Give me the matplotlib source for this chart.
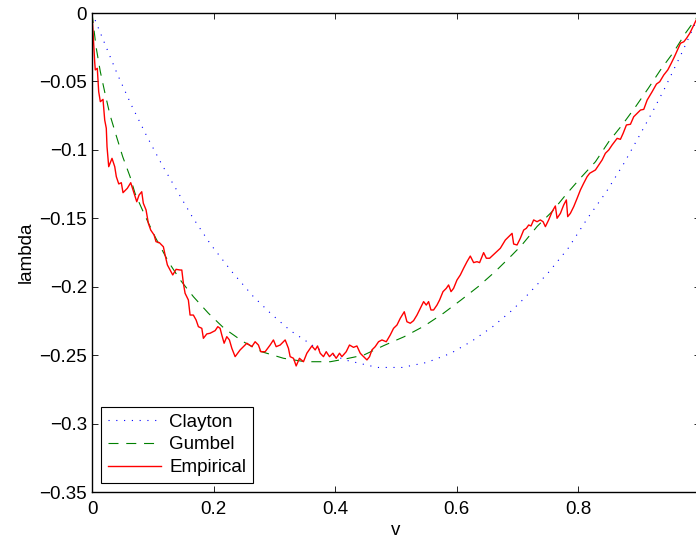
import matplotlib

matplotlib.use("Agg")
import matplotlib.pyplot as plt
from matplotlib.ticker import FuncFormatter, MultipleLocator

plt.rcParams["font.family"] = ["Liberation Sans", "DejaVu Sans"]
plt.rcParams["font.size"] = 13.5

# Clayton curve
clayton_v = [0, 0.0055, 0.021, 0.042, 0.065, 0.09, 0.116, 0.144, 0.165, 0.195, 0.23, 0.265,
             0.295, 0.326, 0.37, 0.416, 0.469, 0.51, 0.551, 0.59, 0.625, 0.659, 0.691, 0.712,
             0.75, 0.783, 0.815, 0.846, 0.875, 0.901, 0.922, 0.942, 0.971, 1.0]
clayton_l = [0, -0.0056, -0.0224, -0.045, -0.0675, -0.0899, -0.1116, -0.133, -0.149, -0.169,
             -0.189, -0.207, -0.220, -0.232, -0.245, -0.2535, -0.259, -0.259, -0.2553, -0.2487,
             -0.2397, -0.2292, -0.2172, -0.208, -0.19, -0.172, -0.15, -0.1306, -0.1098, -0.0891,
             -0.0721, -0.055, -0.0283, 0]

# Gumbel curve
gumbel_v = [0, 0.0066, 0.0137, 0.0214, 0.0296, 0.0395, 0.0505, 0.0626, 0.0708, 0.087, 0.1037,
            0.1256, 0.145, 0.1668, 0.1915, 0.2173, 0.248, 0.279, 0.315, 0.3506, 0.392, 0.4165,
            0.4466, 0.48, 0.5136, 0.5465, 0.578, 0.607, 0.635, 0.663, 0.691, 0.707, 0.732, 0.757,
            0.779, 0.803, 0.828, 0.85, 0.872, 0.894, 0.915, 0.935, 0.957, 0.976, 1.0]
gumbel_l = [0, -0.0246, -0.0429, -0.0587, -0.0745, -0.0891, -0.105, -0.1196, -0.1318, -0.148,
            -0.1635, -0.1817, -0.195, -0.2073, -0.2194, -0.2304, -0.240, -0.2475, -0.2523,
            -0.2548, -0.2548, -0.2528, -0.25, -0.243, -0.2365, -0.2287, -0.2194, -0.2097, -0.2,
            -0.189, -0.1768, -0.1695, -0.156, -0.145, -0.133, -0.1208, -0.1087, -0.094, -0.0818,
            -0.0685, -0.055, -0.0416, -0.0283, -0.0148, 0]

# Empirical curve
emp_v = [0, 0.0012, 0.0028, 0.0044, 0.0054, 0.0087, 0.011, 0.0137, 0.0181, 0.0209, 0.0235,
         0.0247, 0.0275, 0.0329, 0.0374, 0.04, 0.044, 0.0482, 0.051, 0.0581, 0.0637, 0.0691,
         0.0736, 0.0774, 0.0818, 0.0844, 0.0889, 0.0927, 0.0966, 0.1021, 0.1053, 0.1108, 0.1174,
         0.1202, 0.124, 0.1284, 0.1328, 0.1383, 0.1449, 0.1477, 0.1503, 0.1531, 0.1585, 0.1613,
         0.1667, 0.1712, 0.175, 0.1806, 0.1832, 0.1888, 0.1942, 0.2025, 0.2069, 0.2107, 0.2135,
         0.2173, 0.2217, 0.226, 0.23, 0.2354, 0.2436, 0.2547, 0.2629, 0.2683, 0.2737, 0.2777,
         0.2848, 0.293, 0.2984, 0.3029, 0.3095, 0.3177, 0.3231, 0.3259, 0.3314, 0.3358, 0.3412,
         0.3478, 0.3534, 0.3616, 0.3671, 0.3709, 0.3753, 0.3807, 0.3852, 0.3906, 0.3962, 0.4016,
         0.4071, 0.411, 0.4181, 0.4235, 0.4301, 0.4357, 0.4412, 0.444, 0.4522, 0.4565, 0.4604,
         0.4658, 0.4713, 0.4769, 0.484, 0.4905, 0.496, 0.5016, 0.507, 0.5136, 0.518, 0.5235,
         0.5289, 0.5345, 0.5399, 0.5454, 0.5498, 0.5536, 0.5575, 0.5618, 0.5674, 0.5717, 0.5773,
         0.5827, 0.5865, 0.5905, 0.5947, 0.6003, 0.6058, 0.6112, 0.6168, 0.6222, 0.6277, 0.6332,
         0.6375, 0.6441, 0.6486, 0.654, 0.6716, 0.6798, 0.6909, 0.6935, 0.6991, 0.7045, 0.71,
         0.7144, 0.7182, 0.7221, 0.7264, 0.732, 0.7374, 0.7419, 0.7457, 0.7511, 0.7567, 0.7621,
         0.7649, 0.7704, 0.7758, 0.7802, 0.7824, 0.7868, 0.7923, 0.7979, 0.8033, 0.8087, 0.8143,
         0.8186, 0.828, 0.839, 0.8444, 0.8499, 0.8555, 0.8637, 0.8691, 0.8736, 0.879, 0.8856,
         0.891, 0.8966, 0.9021, 0.9075, 0.9131, 0.9213, 0.9284, 0.9338, 0.9404, 0.947, 0.9526,
         0.958, 0.9635, 0.9679, 0.9734, 0.9778, 0.9832, 0.9898, 0.9942, 1.0]
emp_l = [0, -0.01, -0.0221, -0.0356, -0.0416, -0.0404, -0.0575, -0.0648, -0.0631, -0.0782,
         -0.0842, -0.0977, -0.1123, -0.1062, -0.1123, -0.1196, -0.1249, -0.124, -0.1313, -0.1281,
         -0.124, -0.1317, -0.1379, -0.133, -0.1306, -0.139, -0.1439, -0.1537, -0.1586, -0.1622,
         -0.1671, -0.1678, -0.1708, -0.1768, -0.1841, -0.1878, -0.1914, -0.1873, -0.1878,
         -0.1878, -0.1975, -0.2048, -0.2097, -0.2207, -0.2207, -0.2243, -0.2292, -0.2304,
         -0.2377, -0.2345, -0.234, -0.2321, -0.2292, -0.2304, -0.2353, -0.2413, -0.2365,
         -0.2389, -0.245, -0.2511, -0.2462, -0.2413, -0.2438, -0.2402, -0.2426, -0.2475,
         -0.2475, -0.2426, -0.2389, -0.2438, -0.2426, -0.2389, -0.245, -0.2511, -0.2523,
         -0.2579, -0.2523, -0.2548, -0.2486, -0.2433, -0.2462, -0.2433, -0.2486, -0.2511,
         -0.2475, -0.2511, -0.2486, -0.2523, -0.2486, -0.2511, -0.2475, -0.2426, -0.2443,
         -0.2433, -0.2486, -0.2499, -0.2535, -0.2511, -0.2462, -0.2438, -0.2402, -0.2389,
         -0.2402, -0.2353, -0.2304, -0.228, -0.2231, -0.2183, -0.2256, -0.2267, -0.2248,
         -0.2207, -0.2158, -0.2109, -0.2134, -0.2109, -0.217, -0.217, -0.2134, -0.2097, -0.2036,
         -0.2012, -0.1987, -0.2036, -0.2012, -0.1951, -0.1914, -0.1865, -0.1817, -0.1776,
         -0.1824, -0.1817, -0.1824, -0.1751, -0.1792, -0.1792, -0.1719, -0.1659, -0.161,
         -0.1688, -0.1695, -0.1646, -0.1586, -0.1573, -0.1549, -0.1556, -0.1512, -0.1525,
         -0.1512, -0.1525, -0.1561, -0.1512, -0.1452, -0.141, -0.15, -0.1464, -0.1403, -0.1366,
         -0.1488, -0.1464, -0.1415, -0.1354, -0.1293, -0.1244, -0.1196, -0.1171, -0.1147,
         -0.1074, -0.1025, -0.1001, -0.0964, -0.0916, -0.0923, -0.0879, -0.0818, -0.0813,
         -0.0758, -0.0733, -0.0709, -0.0704, -0.0636, -0.0575, -0.0519, -0.0502, -0.0453,
         -0.0416, -0.0368, -0.0319, -0.0265, -0.0221, -0.021, -0.0185, -0.0148, -0.0088,
         -0.0046, 0]

series_labels = ["Clayton", "Gumbel", "Empirical"]
x_label = "v"
y_label = "lambda"


def fmt(x, pos):
    return f"{x:g}".replace("-", "\u2212")


fig = plt.figure(figsize=(6.96, 5.4), dpi=100)
ax = fig.add_axes([92 / 696, 48 / 540, 608 / 696, 479 / 540])

ax.plot(clayton_v, clayton_l, color="#0000ff", linewidth=0.8, linestyle=(0, (1, 6)),
        label=series_labels[0])
ax.plot(gumbel_v, gumbel_l, color="#008000", linewidth=0.8, linestyle=(0, (9, 7)),
        label=series_labels[1])
ax.plot(emp_v, emp_l, color="#ff0000", linewidth=1.0, label=series_labels[2])

ax.set_xlim(0, 1)
ax.set_ylim(-0.35, 0)
ax.xaxis.set_major_locator(MultipleLocator(0.2))
ax.yaxis.set_major_locator(MultipleLocator(0.05))
ax.xaxis.set_major_formatter(FuncFormatter(fmt))
ax.yaxis.set_major_formatter(FuncFormatter(fmt))
ax.tick_params(direction="in", length=4.5, width=0.6, top=True, right=True, labelsize=13.5)
ax.tick_params(axis="x", pad=6.5)
ax.tick_params(axis="y", pad=3.5)
for s in ax.spines.values():
    s.set_linewidth(1.0)

ax.set_xlabel(x_label, fontsize=13.5, labelpad=3)
ax.set_ylabel(y_label, fontsize=13.5, labelpad=3)

leg = ax.legend(loc="lower left", fancybox=False, framealpha=1, edgecolor="black",
                handlelength=2.85, handletextpad=0.43, labelspacing=0.3,
                borderaxespad=0.5, borderpad=0.35, fontsize=13.5)
leg.get_frame().set_linewidth(0.8)

fig.savefig("out.png", dpi=100)
